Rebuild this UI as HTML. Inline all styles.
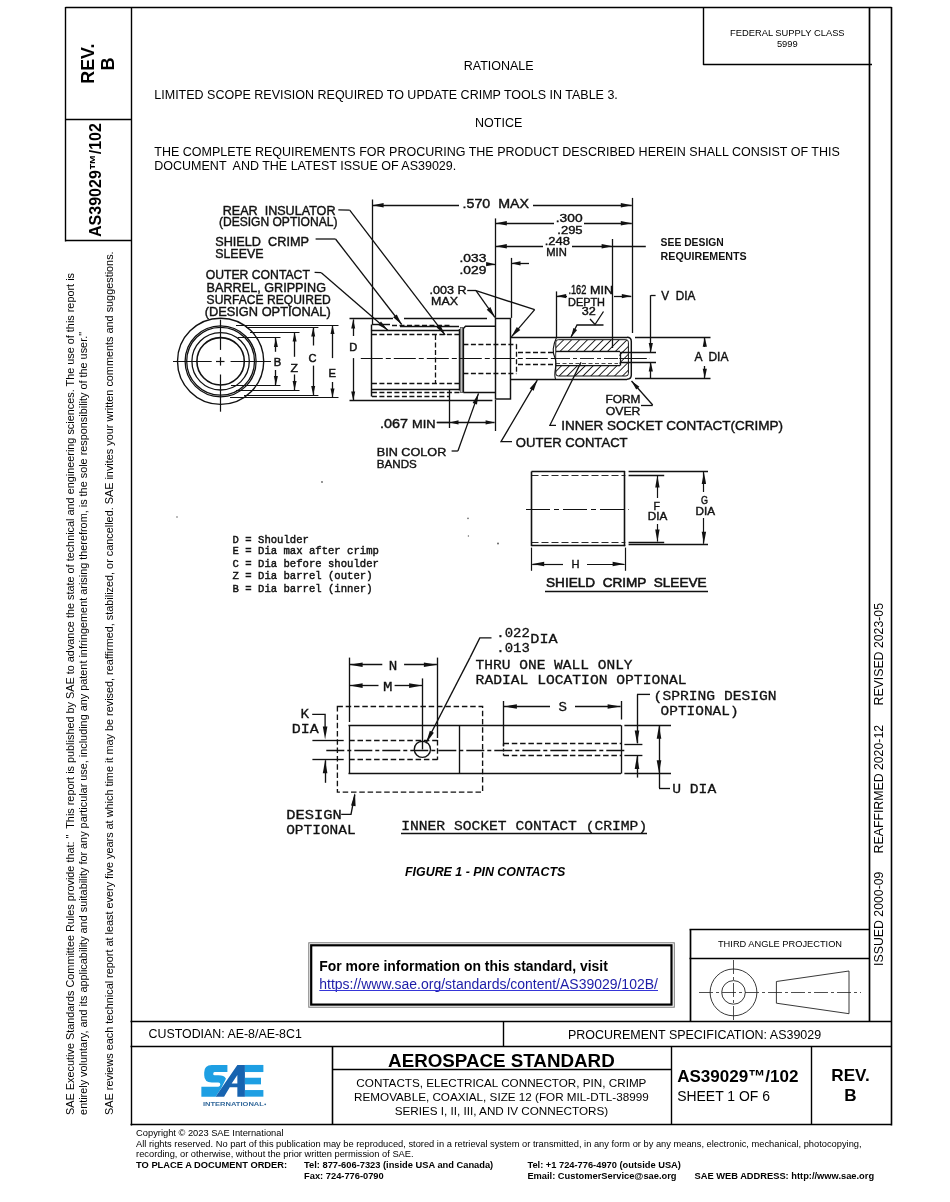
<!DOCTYPE html>
<html><head><meta charset="utf-8"><style>
html,body{margin:0;padding:0;background:#fff;}
body{width:950px;height:1202px;overflow:hidden;}
svg{display:block;will-change:transform;} text{white-space:pre;}
</style></head><body>
<svg width="950" height="1202" viewBox="0 0 950 1202">
<line x1="65.5" y1="7.5" x2="891.5" y2="7.5" stroke="#000" stroke-width="1.4"/>
<line x1="65.5" y1="7.0" x2="65.5" y2="241.5" stroke="#000" stroke-width="1.4"/>
<line x1="65.5" y1="119.5" x2="131.0" y2="119.5" stroke="#000" stroke-width="1.4"/>
<line x1="65.5" y1="240.5" x2="131.0" y2="240.5" stroke="#000" stroke-width="1.4"/>
<line x1="131.5" y1="7.0" x2="131.5" y2="1125.5" stroke="#000" stroke-width="1.4"/>
<line x1="869.5" y1="7.0" x2="869.5" y2="1021.5" stroke="#000" stroke-width="1.7"/>
<line x1="891.5" y1="7.0" x2="891.5" y2="1125.5" stroke="#000" stroke-width="1.5999999999999999"/>
<line x1="703.5" y1="7.0" x2="703.5" y2="65.0" stroke="#000" stroke-width="1.4"/>
<line x1="703.2" y1="64.5" x2="872.0" y2="64.5" stroke="#000" stroke-width="1.4"/>
<line x1="130.5" y1="1021.5" x2="891.5" y2="1021.5" stroke="#000" stroke-width="1.5999999999999999"/>
<line x1="130.5" y1="1046.5" x2="891.5" y2="1046.5" stroke="#000" stroke-width="1.5999999999999999"/>
<line x1="503.5" y1="1021.4" x2="503.5" y2="1046.8" stroke="#000" stroke-width="1.4"/>
<line x1="332.5" y1="1046.8" x2="332.5" y2="1125.0" stroke="#000" stroke-width="1.5999999999999999"/>
<line x1="671.5" y1="1046.8" x2="671.5" y2="1125.0" stroke="#000" stroke-width="1.4"/>
<line x1="811.5" y1="1046.8" x2="811.5" y2="1125.0" stroke="#000" stroke-width="1.4"/>
<line x1="332.3" y1="1069.5" x2="671.3" y2="1069.5" stroke="#000" stroke-width="1.4"/>
<line x1="130.5" y1="1124.5" x2="891.5" y2="1124.5" stroke="#000" stroke-width="1.7"/>
<line x1="690.5" y1="929.6" x2="690.5" y2="1021.4" stroke="#000" stroke-width="1.7"/>
<line x1="689.5" y1="929.5" x2="869.2" y2="929.5" stroke="#000" stroke-width="1.7"/>
<line x1="689.5" y1="958.5" x2="869.2" y2="958.5" stroke="#000" stroke-width="1.7"/>
<text x="94.3" y="63.7" font-family="Liberation Sans" font-size="17.9" font-weight="bold" font-style="normal" text-anchor="middle" fill="#000" transform="rotate(-90 94.3 63.7)">REV.</text>
<text x="114.3" y="64.0" font-family="Liberation Sans" font-size="18.2" font-weight="bold" font-style="normal" text-anchor="middle" fill="#000" transform="rotate(-90 114.3 64.0)">B</text>
<text x="101.0" y="180.0" font-family="Liberation Sans" font-size="16" font-weight="bold" font-style="normal" text-anchor="middle" fill="#000" transform="rotate(-90 101.0 180.0)">AS39029™/102</text>
<text x="74.4" y="1114.9" font-family="Liberation Sans" font-size="10.87" font-weight="normal" font-style="normal" text-anchor="start" fill="#000" transform="rotate(-90 74.4 1114.9)">SAE Executive Standards Committee Rules provide that: "  This report is published by SAE to advance the state of technical and engineering sciences. The use of this report is</text>
<text x="87.3" y="1114.9" font-family="Liberation Sans" font-size="10.87" font-weight="normal" font-style="normal" text-anchor="start" fill="#000" transform="rotate(-90 87.3 1114.9)">entirely voluntary, and its applicability and suitability for any particular use, including any patent infringement arising therefrom, is the sole responsibility of the user."</text>
<text x="113.1" y="1114.9" font-family="Liberation Sans" font-size="10.87" font-weight="normal" font-style="normal" text-anchor="start" fill="#000" transform="rotate(-90 113.1 1114.9)">SAE reviews each technical report at least every five years at which time it may be revised, reaffirmed, stabilized, or cancelled. SAE invites your written comments and suggestions.</text>
<text x="883.3" y="965.9" font-family="Liberation Sans" font-size="12.3" font-weight="normal" font-style="normal" text-anchor="start" fill="#000" transform="rotate(-90 883.3 965.9)">ISSUED 2000-09</text>
<text x="883.3" y="853.4" font-family="Liberation Sans" font-size="12.3" font-weight="normal" font-style="normal" text-anchor="start" fill="#000" transform="rotate(-90 883.3 853.4)">REAFFIRMED 2020-12</text>
<text x="883.3" y="705.5" font-family="Liberation Sans" font-size="12.3" font-weight="normal" font-style="normal" text-anchor="start" fill="#000" transform="rotate(-90 883.3 705.5)">REVISED 2023-05</text>
<text x="787.3" y="36.3" font-family="Liberation Sans" font-size="9.35" font-weight="normal" font-style="normal" text-anchor="middle" fill="#000">FEDERAL SUPPLY CLASS</text>
<text x="787.3" y="47.3" font-family="Liberation Sans" font-size="9.35" font-weight="normal" font-style="normal" text-anchor="middle" fill="#000">5999</text>
<text x="498.7" y="70.0" font-family="Liberation Sans" font-size="12.5" font-weight="normal" font-style="normal" text-anchor="middle" fill="#000">RATIONALE</text>
<text x="154.3" y="98.8" font-family="Liberation Sans" font-size="12.5" font-weight="normal" font-style="normal" text-anchor="start" fill="#000">LIMITED SCOPE REVISION REQUIRED TO UPDATE CRIMP TOOLS IN TABLE 3.</text>
<text x="498.7" y="127.0" font-family="Liberation Sans" font-size="12.5" font-weight="normal" font-style="normal" text-anchor="middle" fill="#000">NOTICE</text>
<text x="154.3" y="156.0" font-family="Liberation Sans" font-size="12.5" font-weight="normal" font-style="normal" text-anchor="start" fill="#000">THE COMPLETE REQUIREMENTS FOR PROCURING THE PRODUCT DESCRIBED HEREIN SHALL CONSIST OF THIS</text>
<text x="154.3" y="170.2" font-family="Liberation Sans" font-size="12.5" font-weight="normal" font-style="normal" text-anchor="start" fill="#000" xml:space="preserve">DOCUMENT  AND THE LATEST ISSUE OF AS39029.</text>
<text x="405.0" y="876.4" font-family="Liberation Sans" font-size="12.42" font-weight="bold" font-style="italic" text-anchor="start" fill="#000">FIGURE 1 - PIN CONTACTS</text>
<rect x="308.8" y="942.8" width="365.5" height="64.4" fill="none" stroke="#777" stroke-width="1.0"/>
<rect x="311.2" y="945.3" width="360.3" height="59.3" fill="none" stroke="#000" stroke-width="2.2"/>
<text x="319.3" y="971.0" font-family="Liberation Sans" font-size="13.93" font-weight="bold" font-style="normal" text-anchor="start" fill="#000">For more information on this standard, visit</text>
<text x="319.3" y="988.6" font-family="Liberation Sans" font-size="13.97" font-weight="normal" font-style="normal" text-anchor="start" fill="#1c1ca8">https://www.sae.org/standards/content/AS39029/102B/</text>
<line x1="319.3" y1="990.5" x2="658.0" y2="990.5" stroke="#3535d8" stroke-width="1.1"/>
<text x="780.0" y="947.0" font-family="Liberation Sans" font-size="9.28" font-weight="normal" font-style="normal" text-anchor="middle" fill="#000">THIRD ANGLE PROJECTION</text>
<text x="148.5" y="1037.8" font-family="Liberation Sans" font-size="12.4" font-weight="normal" font-style="normal" text-anchor="start" fill="#000">CUSTODIAN: AE-8/AE-8C1</text>
<text x="568.0" y="1039.0" font-family="Liberation Sans" font-size="12.48" font-weight="normal" font-style="normal" text-anchor="start" fill="#000">PROCUREMENT SPECIFICATION: AS39029</text>
<text x="501.4" y="1066.8" font-family="Liberation Sans" font-size="18.78" font-weight="bold" font-style="normal" text-anchor="middle" fill="#000">AEROSPACE STANDARD</text>
<text x="501.4" y="1087.2" font-family="Liberation Sans" font-size="11.7" font-weight="normal" font-style="normal" text-anchor="middle" fill="#000">CONTACTS, ELECTRICAL CONNECTOR, PIN, CRIMP</text>
<text x="501.4" y="1101.2" font-family="Liberation Sans" font-size="11.7" font-weight="normal" font-style="normal" text-anchor="middle" fill="#000">REMOVABLE, COAXIAL, SIZE 12 (FOR MIL-DTL-38999</text>
<text x="501.4" y="1114.8" font-family="Liberation Sans" font-size="11.7" font-weight="normal" font-style="normal" text-anchor="middle" fill="#000">SERIES I, II, III, AND IV CONNECTORS)</text>
<text x="677.2" y="1082.4" font-family="Liberation Sans" font-size="17.05" font-weight="bold" font-style="normal" text-anchor="start" fill="#000">AS39029™/102</text>
<text x="677.2" y="1101.4" font-family="Liberation Sans" font-size="13.94" font-weight="normal" font-style="normal" text-anchor="start" fill="#000">SHEET 1 OF 6</text>
<text x="850.5" y="1081.2" font-family="Liberation Sans" font-size="17.1" font-weight="bold" font-style="normal" text-anchor="middle" fill="#000">REV.</text>
<text x="850.5" y="1100.6" font-family="Liberation Sans" font-size="17.1" font-weight="bold" font-style="normal" text-anchor="middle" fill="#000">B</text>
<text x="136.1" y="1136.0" font-family="Liberation Sans" font-size="9.3" font-weight="normal" font-style="normal" text-anchor="start" fill="#000">Copyright © 2023 SAE International</text>
<text x="136.1" y="1146.6" font-family="Liberation Sans" font-size="9.3" font-weight="normal" font-style="normal" text-anchor="start" fill="#000">All rights reserved. No part of this publication may be reproduced, stored in a retrieval system or transmitted, in any form or by any means, electronic, mechanical, photocopying,</text>
<text x="136.1" y="1157.0" font-family="Liberation Sans" font-size="9.3" font-weight="normal" font-style="normal" text-anchor="start" fill="#000">recording, or otherwise, without the prior written permission of SAE.</text>
<text x="136.1" y="1168.1" font-family="Liberation Sans" font-size="9.3" font-weight="bold" font-style="normal" text-anchor="start" fill="#000">TO PLACE A DOCUMENT ORDER:</text>
<text x="304.1" y="1168.1" font-family="Liberation Sans" font-size="9.3" font-weight="bold" font-style="normal" text-anchor="start" fill="#000">Tel: 877-606-7323 (inside USA and Canada)</text>
<text x="304.1" y="1178.9" font-family="Liberation Sans" font-size="9.3" font-weight="bold" font-style="normal" text-anchor="start" fill="#000">Fax: 724-776-0790</text>
<text x="527.4" y="1168.1" font-family="Liberation Sans" font-size="9.3" font-weight="bold" font-style="normal" text-anchor="start" fill="#000">Tel: +1 724-776-4970 (outside USA)</text>
<text x="527.4" y="1178.9" font-family="Liberation Sans" font-size="9.3" font-weight="bold" font-style="normal" text-anchor="start" fill="#000">Email: CustomerService@sae.org</text>
<text x="694.5" y="1178.9" font-family="Liberation Sans" font-size="9.3" font-weight="bold" font-style="normal" text-anchor="start" fill="#000">SAE WEB ADDRESS: http://www.sae.org</text>
<path d="M227.41,1064.94 L211.78,1064.94 Q204.20,1064.94 204.20,1072.52 L204.20,1075.36 Q204.20,1082.46 211.78,1082.46 L218.41,1082.46 Q220.30,1082.46 220.30,1084.36 Q220.30,1086.72 218.41,1086.72 L201.36,1086.72 L201.36,1096.67 L215.57,1096.67 L221.25,1088.14 L225.98,1078.67 Q224.09,1075.36 218.41,1075.36 L214.62,1075.36 Q213.20,1075.36 213.20,1073.94 Q213.20,1072.05 214.62,1072.05 L227.41,1072.05 Z" fill="#1e9fe3"/>
<path d="M215.57,1096.67 L237.35,1064.94 L244.92,1064.94 L244.92,1096.67 L237.35,1096.67 L237.35,1087.20 L229.77,1087.20 L224.09,1096.67 Z M231.67,1083.41 L237.35,1083.41 L237.35,1074.89 Z" fill="#1763b0" fill-rule="evenodd"/>
<polygon points="244.92,1064.94 263.39,1064.94 263.39,1072.05 244.92,1072.05" fill="#1e9fe3"/>
<polygon points="244.92,1077.73 261.02,1077.73 261.02,1084.36 244.92,1084.36" fill="#1e9fe3"/>
<polygon points="244.92,1090.04 263.39,1090.04 263.39,1096.67 244.92,1096.67" fill="#1e9fe3"/>
<text x="233.4" y="1105.8" font-family="Liberation Sans" font-size="6.0" font-weight="bold" font-style="normal" text-anchor="middle" fill="#356a9c" textLength="61.0" lengthAdjust="spacingAndGlyphs">INTERNATIONAL</text>
<circle cx="265.2" cy="1104.3" r="0.9" fill="#356a9c"/>
<circle cx="220.6" cy="361.3" r="43.1" fill="none" stroke="#111" stroke-width="1.4"/>
<circle cx="220.6" cy="361.3" r="35.5" fill="none" stroke="#111" stroke-width="1.3"/>
<circle cx="220.6" cy="361.3" r="33.9" fill="none" stroke="#111" stroke-width="1.3"/>
<circle cx="220.6" cy="361.3" r="28.7" fill="none" stroke="#111" stroke-width="1.3"/>
<circle cx="220.6" cy="361.3" r="23.7" fill="none" stroke="#111" stroke-width="1.6"/>
<line x1="173.0" y1="361.5" x2="211.7" y2="361.5" stroke="#111" stroke-width="1.2"/>
<line x1="216.0" y1="361.5" x2="224.5" y2="361.5" stroke="#111" stroke-width="1.2"/>
<line x1="230.6" y1="361.5" x2="271.0" y2="361.5" stroke="#111" stroke-width="1.2"/>
<line x1="220.5" y1="319.6" x2="220.5" y2="349.9" stroke="#111" stroke-width="1.2"/>
<line x1="220.5" y1="357.2" x2="220.5" y2="365.6" stroke="#111" stroke-width="1.2"/>
<line x1="220.5" y1="374.5" x2="220.5" y2="411.7" stroke="#111" stroke-width="1.2"/>
<line x1="236.0" y1="325.5" x2="338.5" y2="325.5" stroke="#111" stroke-width="1.0"/>
<line x1="246.0" y1="327.5" x2="318.4" y2="327.5" stroke="#111" stroke-width="1.0"/>
<line x1="250.0" y1="332.5" x2="299.5" y2="332.5" stroke="#111" stroke-width="1.0"/>
<line x1="238.0" y1="337.5" x2="280.5" y2="337.5" stroke="#111" stroke-width="1.0"/>
<line x1="231.0" y1="385.5" x2="280.5" y2="385.5" stroke="#111" stroke-width="1.0"/>
<line x1="236.0" y1="390.5" x2="299.5" y2="390.5" stroke="#111" stroke-width="1.0"/>
<line x1="244.0" y1="395.5" x2="318.4" y2="395.5" stroke="#111" stroke-width="1.0"/>
<line x1="230.0" y1="397.5" x2="338.5" y2="397.5" stroke="#111" stroke-width="1.0"/>
<line x1="275.5" y1="351.8" x2="275.5" y2="337.9" stroke="#111" stroke-width="1.3"/>
<polygon points="275.9,337.9 277.9,346.9 273.9,346.9" fill="#111"/>
<line x1="275.5" y1="370.0" x2="275.5" y2="385.1" stroke="#111" stroke-width="1.3"/>
<polygon points="275.9,385.1 273.9,376.1 277.9,376.1" fill="#111"/>
<line x1="294.5" y1="356.8" x2="294.5" y2="332.6" stroke="#111" stroke-width="1.3"/>
<polygon points="294.6,332.6 296.6,341.6 292.6,341.6" fill="#111"/>
<line x1="294.5" y1="374.5" x2="294.5" y2="390.1" stroke="#111" stroke-width="1.3"/>
<polygon points="294.6,390.1 292.6,381.1 296.6,381.1" fill="#111"/>
<line x1="313.5" y1="345.5" x2="313.5" y2="327.4" stroke="#111" stroke-width="1.3"/>
<polygon points="313.2,327.4 315.2,336.4 311.2,336.4" fill="#111"/>
<line x1="313.5" y1="365.6" x2="313.5" y2="395.0" stroke="#111" stroke-width="1.3"/>
<polygon points="313.2,395.0 311.2,386.0 315.2,386.0" fill="#111"/>
<line x1="332.5" y1="358.1" x2="332.5" y2="325.0" stroke="#111" stroke-width="1.3"/>
<polygon points="332.5,325.0 334.5,334.0 330.5,334.0" fill="#111"/>
<line x1="332.5" y1="382.0" x2="332.5" y2="397.4" stroke="#111" stroke-width="1.3"/>
<polygon points="332.5,397.4 330.5,388.4 334.5,388.4" fill="#111"/>
<line x1="353.5" y1="336.0" x2="353.5" y2="319.4" stroke="#111" stroke-width="1.3"/>
<polygon points="353.2,319.4 355.2,328.4 351.2,328.4" fill="#111"/>
<line x1="353.5" y1="358.1" x2="353.5" y2="400.6" stroke="#111" stroke-width="1.3"/>
<polygon points="353.2,400.6 351.2,391.6 355.2,391.6" fill="#111"/>
<text x="277.4" y="365.6" font-family="Liberation Sans" font-size="11.8" font-weight="normal" font-style="normal" text-anchor="middle" fill="#111" textLength="7.5" lengthAdjust="spacingAndGlyphs" stroke="#111" stroke-width="0.5">B</text>
<text x="294.3" y="372.2" font-family="Liberation Sans" font-size="11.8" font-weight="normal" font-style="normal" text-anchor="middle" fill="#111" textLength="7.5" lengthAdjust="spacingAndGlyphs" stroke="#111" stroke-width="0.5">Z</text>
<text x="312.6" y="362.0" font-family="Liberation Sans" font-size="11.8" font-weight="normal" font-style="normal" text-anchor="middle" fill="#111" textLength="8.0" lengthAdjust="spacingAndGlyphs" stroke="#111" stroke-width="0.5">C</text>
<text x="332.2" y="377.2" font-family="Liberation Sans" font-size="11.8" font-weight="normal" font-style="normal" text-anchor="middle" fill="#111" textLength="7.5" lengthAdjust="spacingAndGlyphs" stroke="#111" stroke-width="0.5">E</text>
<text x="353.3" y="350.6" font-family="Liberation Sans" font-size="11.8" font-weight="normal" font-style="normal" text-anchor="middle" fill="#111" textLength="8.0" lengthAdjust="spacingAndGlyphs" stroke="#111" stroke-width="0.5">D</text>
<line x1="349.5" y1="318.5" x2="393.0" y2="318.5" stroke="#111" stroke-width="1.3"/>
<line x1="404.0" y1="318.5" x2="487.0" y2="318.5" stroke="#111" stroke-width="1.3"/>
<line x1="349.5" y1="400.5" x2="492.4" y2="400.5" stroke="#111" stroke-width="1.3"/>
<line x1="371.5" y1="324.5" x2="371.5" y2="396.5" stroke="#111" stroke-width="1.45"/>
<line x1="371.9" y1="324.5" x2="390.0" y2="324.5" stroke="#111" stroke-width="1.45"/>
<line x1="392.0" y1="325.5" x2="450.0" y2="325.5" stroke="#111" stroke-width="1.3" stroke-dasharray="5,2.5"/>
<line x1="400.0" y1="326.5" x2="459.0" y2="326.5" stroke="#111" stroke-width="1.3"/>
<line x1="371.9" y1="330.5" x2="459.6" y2="330.5" stroke="#111" stroke-width="1.45"/>
<line x1="371.9" y1="334.5" x2="459.6" y2="334.5" stroke="#111" stroke-width="1.3" stroke-dasharray="5,2.5"/>
<line x1="371.9" y1="383.5" x2="459.6" y2="383.5" stroke="#111" stroke-width="1.3" stroke-dasharray="5,2.5"/>
<line x1="371.9" y1="389.5" x2="459.6" y2="389.5" stroke="#111" stroke-width="1.45"/>
<line x1="371.9" y1="392.5" x2="459.6" y2="392.5" stroke="#111" stroke-width="1.3" stroke-dasharray="5,2.5"/>
<line x1="371.9" y1="396.5" x2="449.0" y2="396.5" stroke="#111" stroke-width="1.3" stroke-dasharray="5,2.5"/>
<line x1="435.5" y1="334.9" x2="435.5" y2="383.5" stroke="#111" stroke-width="1.3" stroke-dasharray="5,2.5"/>
<line x1="459.5" y1="329.0" x2="459.5" y2="390.5" stroke="#111" stroke-width="1.45"/>
<rect x="460.3" y="327.5" width="2.6" height="65.0" fill="#bbb" stroke="#555" stroke-width="0.8"/>
<polyline points="463.4,392.5 463.4,328.5 465.5,326.2 495.3,326.2" fill="none" stroke="#111" stroke-width="1.45"/>
<line x1="463.4" y1="392.5" x2="495.3" y2="392.5" stroke="#111" stroke-width="1.45"/>
<rect x="495.5" y="318.5" width="15.0" height="80.5" fill="none" stroke="#111" stroke-width="1.45"/>
<line x1="510.7" y1="337.5" x2="627.0" y2="337.5" stroke="#111" stroke-width="1.45"/>
<line x1="510.7" y1="379.5" x2="627.0" y2="379.5" stroke="#111" stroke-width="1.45"/>
<path d="M627,337.3 Q631.3,337.3 631.3,341.5 L631.3,375 Q631.3,379.2 627,379.2" fill="none" stroke="#111" stroke-width="1.45"/>
<line x1="463.4" y1="344.5" x2="516.4" y2="344.5" stroke="#111" stroke-width="1.3" stroke-dasharray="5,2.5"/>
<line x1="463.4" y1="373.5" x2="516.4" y2="373.5" stroke="#111" stroke-width="1.3" stroke-dasharray="5,2.5"/>
<line x1="516.5" y1="344.3" x2="516.5" y2="373.8" stroke="#111" stroke-width="1.3" stroke-dasharray="5,2.5"/>
<line x1="518.0" y1="352.5" x2="555.0" y2="352.5" stroke="#111" stroke-width="1.3" stroke-dasharray="5,2.5"/>
<line x1="518.0" y1="364.5" x2="555.0" y2="364.5" stroke="#111" stroke-width="1.3" stroke-dasharray="5,2.5"/>
<line x1="360.8" y1="358.5" x2="650.0" y2="358.5" stroke="#111" stroke-width="1.0" stroke-dasharray="22,3,5,3"/>
<defs><pattern id="h" width="5.6" height="5.6" patternUnits="userSpaceOnUse" patternTransform="rotate(45)"><line x1="0" y1="0" x2="0" y2="5.6" stroke="#111" stroke-width="1.8"/></pattern></defs>
<rect x="555.8" y="339.9" width="72.6" height="11.6" fill="url(#h)"/>
<rect x="555.8" y="365.8" width="72.6" height="10.2" fill="url(#h)"/>
<rect x="619" y="351" width="9.4" height="15" fill="url(#h)"/>
<rect x="555.8" y="339.7" width="72.6" height="36.3" rx="2.5" fill="none" stroke="#111" stroke-width="1.0"/>
<line x1="556.0" y1="351.5" x2="620.0" y2="351.5" stroke="#111" stroke-width="1.3"/>
<line x1="556.0" y1="365.5" x2="620.0" y2="365.5" stroke="#111" stroke-width="1.3"/>
<line x1="620.5" y1="351.8" x2="620.5" y2="365.6" stroke="#111" stroke-width="1.3"/>
<rect x="556.5" y="352.6" width="62.8" height="12.3" fill="#fff"/>
<line x1="556.0" y1="358.5" x2="628.0" y2="358.5" stroke="#111" stroke-width="0.9" stroke-dasharray="14,3,4,3"/>
<line x1="556.0" y1="363.5" x2="618.0" y2="363.5" stroke="#333" stroke-width="0.9" stroke-dasharray="4,2.5"/>
<path d="M556.5,337.5 C553,345 552,352 555,358 C558,365 553,372 555.5,379" fill="none" stroke="#111" stroke-width="1.1"/>
<line x1="372.5" y1="199.5" x2="372.5" y2="324.0" stroke="#111" stroke-width="1.3"/>
<line x1="632.5" y1="197.9" x2="632.5" y2="333.0" stroke="#111" stroke-width="1.3"/>
<line x1="495.5" y1="218.4" x2="495.5" y2="317.9" stroke="#111" stroke-width="1.3"/>
<line x1="495.5" y1="400.0" x2="495.5" y2="431.0" stroke="#111" stroke-width="1.3"/>
<line x1="511.5" y1="257.9" x2="511.5" y2="317.9" stroke="#111" stroke-width="1.3"/>
<line x1="612.5" y1="239.0" x2="612.5" y2="348.0" stroke="#111" stroke-width="1.3"/>
<line x1="556.5" y1="291.4" x2="556.5" y2="338.0" stroke="#111" stroke-width="1.3"/>
<line x1="449.5" y1="389.5" x2="449.5" y2="428.0" stroke="#111" stroke-width="1.3"/>
<line x1="459.0" y1="205.5" x2="372.6" y2="205.5" stroke="#111" stroke-width="1.3"/>
<polygon points="372.6,205.2 383.6,202.9 383.6,207.5" fill="#111"/>
<line x1="533.0" y1="205.5" x2="631.8" y2="205.5" stroke="#111" stroke-width="1.3"/>
<polygon points="631.8,205.2 620.8,207.5 620.8,202.9" fill="#111"/>
<text x="462.6" y="208.3" font-family="Liberation Sans" font-size="12.5" font-weight="normal" font-style="normal" text-anchor="start" fill="#111" textLength="66.4" lengthAdjust="spacingAndGlyphs" stroke="#111" stroke-width="0.4">.570  MAX</text>
<line x1="554.0" y1="223.5" x2="495.8" y2="223.5" stroke="#111" stroke-width="1.3"/>
<polygon points="495.8,223.2 506.8,220.9 506.8,225.5" fill="#111"/>
<line x1="584.0" y1="223.5" x2="631.8" y2="223.5" stroke="#111" stroke-width="1.3"/>
<polygon points="631.8,223.2 620.8,225.5 620.8,220.9" fill="#111"/>
<text x="555.8" y="221.6" font-family="Liberation Sans" font-size="11.5" font-weight="normal" font-style="normal" text-anchor="start" fill="#111" textLength="26.8" lengthAdjust="spacingAndGlyphs" stroke="#111" stroke-width="0.4">.300</text>
<text x="557.3" y="234.2" font-family="Liberation Sans" font-size="11.5" font-weight="normal" font-style="normal" text-anchor="start" fill="#111" textLength="25.3" lengthAdjust="spacingAndGlyphs" stroke="#111" stroke-width="0.4">.295</text>
<line x1="543.0" y1="246.5" x2="495.8" y2="246.5" stroke="#111" stroke-width="1.3"/>
<polygon points="495.8,246.2 506.8,243.9 506.8,248.5" fill="#111"/>
<line x1="572.0" y1="246.5" x2="612.6" y2="246.5" stroke="#111" stroke-width="1.3"/>
<polygon points="612.6,246.2 601.6,248.5 601.6,243.9" fill="#111"/>
<line x1="612.6" y1="246.5" x2="645.8" y2="246.5" stroke="#111" stroke-width="1.3"/>
<text x="544.7" y="245.3" font-family="Liberation Sans" font-size="11.5" font-weight="normal" font-style="normal" text-anchor="start" fill="#111" textLength="25.3" lengthAdjust="spacingAndGlyphs" stroke="#111" stroke-width="0.4">.248</text>
<text x="546.3" y="256.3" font-family="Liberation Sans" font-size="11.5" font-weight="normal" font-style="normal" text-anchor="start" fill="#111" textLength="20.5" lengthAdjust="spacingAndGlyphs" stroke="#111" stroke-width="0.4">MIN</text>
<text x="660.6" y="245.6" font-family="Liberation Sans" font-size="10.6" font-weight="bold" font-style="normal" text-anchor="start" fill="#111" textLength="63.2" lengthAdjust="spacingAndGlyphs">SEE DESIGN</text>
<text x="660.6" y="259.9" font-family="Liberation Sans" font-size="10.6" font-weight="bold" font-style="normal" text-anchor="start" fill="#111" textLength="86.1" lengthAdjust="spacingAndGlyphs">REQUIREMENTS</text>
<line x1="486.5" y1="264.5" x2="495.6" y2="264.5" stroke="#111" stroke-width="1.3"/>
<polygon points="495.6,264.2 486.1,266.3 486.1,262.1" fill="#111"/>
<line x1="529.0" y1="263.5" x2="511.0" y2="263.5" stroke="#111" stroke-width="1.3"/>
<polygon points="511.0,263.3 520.5,261.2 520.5,265.4" fill="#111"/>
<text x="459.5" y="262.0" font-family="Liberation Sans" font-size="11" font-weight="normal" font-style="normal" text-anchor="start" fill="#111" textLength="26.8" lengthAdjust="spacingAndGlyphs" stroke="#111" stroke-width="0.4">.033</text>
<text x="459.5" y="273.7" font-family="Liberation Sans" font-size="11" font-weight="normal" font-style="normal" text-anchor="start" fill="#111" textLength="26.8" lengthAdjust="spacingAndGlyphs" stroke="#111" stroke-width="0.4">.029</text>
<text x="429.5" y="294.2" font-family="Liberation Sans" font-size="11.5" font-weight="normal" font-style="normal" text-anchor="start" fill="#111" textLength="37.0" lengthAdjust="spacingAndGlyphs" stroke="#111" stroke-width="0.4">.003 R</text>
<text x="431.1" y="305.2" font-family="Liberation Sans" font-size="11.5" font-weight="normal" font-style="normal" text-anchor="start" fill="#111" textLength="27.0" lengthAdjust="spacingAndGlyphs" stroke="#111" stroke-width="0.4">MAX</text>
<line x1="467.2" y1="290.5" x2="476.0" y2="290.5" stroke="#111" stroke-width="1.3"/>
<line x1="476.0" y1="290.7" x2="494.9" y2="317.3" stroke="#111" stroke-width="1.3"/>
<polygon points="494.9,317.3 486.7,309.7 490.4,307.0" fill="#111"/>
<line x1="476.0" y1="290.7" x2="534.7" y2="309.7" stroke="#111" stroke-width="1.3"/>
<line x1="534.7" y1="309.7" x2="511.4" y2="336.8" stroke="#111" stroke-width="1.3"/>
<polygon points="511.4,336.8 516.8,327.0 520.3,330.0" fill="#111"/>
<line x1="567.0" y1="296.5" x2="556.7" y2="296.5" stroke="#111" stroke-width="1.3"/>
<polygon points="556.7,296.1 566.2,294.0 566.2,298.2" fill="#111"/>
<line x1="614.0" y1="296.5" x2="631.3" y2="296.5" stroke="#111" stroke-width="1.3"/>
<polygon points="631.3,296.1 621.8,298.2 621.8,294.0" fill="#111"/>
<text x="568.4" y="294.2" font-family="Liberation Sans" font-size="12" font-weight="normal" font-style="normal" text-anchor="start" fill="#111" textLength="18.0" lengthAdjust="spacingAndGlyphs" stroke="#111" stroke-width="0.4">.162</text>
<text x="590.0" y="294.2" font-family="Liberation Sans" font-size="10.5" font-weight="normal" font-style="normal" text-anchor="start" fill="#111" textLength="23.0" lengthAdjust="spacingAndGlyphs" stroke="#111" stroke-width="0.4">MIN</text>
<text x="568.0" y="305.6" font-family="Liberation Sans" font-size="10.5" font-weight="normal" font-style="normal" text-anchor="start" fill="#111" textLength="37.0" lengthAdjust="spacingAndGlyphs" stroke="#111" stroke-width="0.4">DEPTH</text>
<text x="581.7" y="315.0" font-family="Liberation Sans" font-size="10.5" font-weight="normal" font-style="normal" text-anchor="start" fill="#111" textLength="14.0" lengthAdjust="spacingAndGlyphs" stroke="#111" stroke-width="0.4">32</text>
<polyline points="590.0,319.0 595.0,324.5 603.5,311.5" fill="none" stroke="#111" stroke-width="1.3"/>
<polyline points="603.5,325.0 577.0,325.0 571.0,337.0" fill="none" stroke="#111" stroke-width="1.3"/>
<polygon points="571.0,337.5 573.4,328.1 577.1,329.9" fill="#111"/>
<line x1="650.8" y1="295.5" x2="655.6" y2="295.5" stroke="#111" stroke-width="1.3"/>
<line x1="650.5" y1="295.2" x2="650.5" y2="352.4" stroke="#111" stroke-width="1.3"/>
<polygon points="650.8,352.4 648.7,342.9 652.9,342.9" fill="#111"/>
<line x1="650.5" y1="378.5" x2="650.5" y2="362.0" stroke="#111" stroke-width="1.3"/>
<polygon points="650.8,362.0 652.9,371.5 648.7,371.5" fill="#111"/>
<line x1="621.0" y1="352.5" x2="656.0" y2="352.5" stroke="#111" stroke-width="1.3"/>
<line x1="621.0" y1="362.5" x2="656.0" y2="362.5" stroke="#111" stroke-width="1.3"/>
<text x="661.3" y="299.5" font-family="Liberation Sans" font-size="12" font-weight="normal" font-style="normal" text-anchor="start" fill="#111" textLength="34.0" lengthAdjust="spacingAndGlyphs" stroke="#111" stroke-width="0.4">V  DIA</text>
<line x1="635.0" y1="337.5" x2="710.5" y2="337.5" stroke="#111" stroke-width="1.3"/>
<line x1="635.0" y1="378.5" x2="710.5" y2="378.5" stroke="#111" stroke-width="1.3"/>
<line x1="704.5" y1="347.0" x2="704.5" y2="337.3" stroke="#111" stroke-width="1.3"/>
<polygon points="704.8,337.3 706.9,346.8 702.7,346.8" fill="#111"/>
<line x1="704.5" y1="366.0" x2="704.5" y2="378.2" stroke="#111" stroke-width="1.3"/>
<polygon points="704.8,378.2 702.7,368.7 706.9,368.7" fill="#111"/>
<text x="694.4" y="361.0" font-family="Liberation Sans" font-size="12" font-weight="normal" font-style="normal" text-anchor="start" fill="#111" textLength="34.0" lengthAdjust="spacingAndGlyphs" stroke="#111" stroke-width="0.4">A  DIA</text>
<line x1="652.7" y1="405.0" x2="631.5" y2="381.0" stroke="#111" stroke-width="1.3"/>
<polygon points="631.5,381.0 639.4,386.7 636.2,389.5" fill="#111"/>
<line x1="652.7" y1="405.5" x2="641.0" y2="405.5" stroke="#111" stroke-width="1.3"/>
<text x="605.4" y="403.4" font-family="Liberation Sans" font-size="11.5" font-weight="normal" font-style="normal" text-anchor="start" fill="#111" textLength="35.0" lengthAdjust="spacingAndGlyphs" stroke="#111" stroke-width="0.4">FORM</text>
<text x="605.8" y="414.6" font-family="Liberation Sans" font-size="11.5" font-weight="normal" font-style="normal" text-anchor="start" fill="#111" textLength="34.6" lengthAdjust="spacingAndGlyphs" stroke="#111" stroke-width="0.4">OVER</text>
<polyline points="556.0,425.3 549.9,425.3 581.0,362.4" fill="none" stroke="#111" stroke-width="1.3"/>
<text x="561.3" y="429.8" font-family="Liberation Sans" font-size="12.3" font-weight="normal" font-style="normal" text-anchor="start" fill="#111" textLength="221.7" lengthAdjust="spacingAndGlyphs" stroke="#111" stroke-width="0.4">INNER SOCKET CONTACT(CRIMP)</text>
<polyline points="512.0,441.6 501.0,441.6 537.3,380.1" fill="none" stroke="#111" stroke-width="1.3"/>
<polygon points="537.3,380.1 533.7,390.7 529.7,388.4" fill="#111"/>
<text x="515.8" y="446.6" font-family="Liberation Sans" font-size="12.3" font-weight="normal" font-style="normal" text-anchor="start" fill="#111" textLength="111.8" lengthAdjust="spacingAndGlyphs" stroke="#111" stroke-width="0.4">OUTER CONTACT</text>
<line x1="436.8" y1="422.5" x2="494.6" y2="422.5" stroke="#111" stroke-width="1.3"/>
<polygon points="449.5,422.4 458.5,420.2 458.5,424.6" fill="#111"/>
<polygon points="494.6,422.4 485.6,424.6 485.6,420.2" fill="#111"/>
<line x1="436.8" y1="422.5" x2="449.5" y2="422.5" stroke="#111" stroke-width="1.3"/>
<text x="380.0" y="428.0" font-family="Liberation Sans" font-size="13.5" font-weight="normal" font-style="normal" text-anchor="start" fill="#111" textLength="28.0" lengthAdjust="spacingAndGlyphs" stroke="#111" stroke-width="0.45">.067</text>
<text x="412.0" y="428.0" font-family="Liberation Sans" font-size="11.5" font-weight="normal" font-style="normal" text-anchor="start" fill="#111" textLength="23.5" lengthAdjust="spacingAndGlyphs" stroke="#111" stroke-width="0.4">MIN</text>
<polyline points="451.6,451.0 457.9,451.0" fill="none" stroke="#111" stroke-width="1.3"/>
<line x1="457.9" y1="451.0" x2="478.5" y2="393.4" stroke="#111" stroke-width="1.3"/>
<polygon points="478.5,393.4 477.0,404.5 472.6,403.0" fill="#111"/>
<text x="376.8" y="455.7" font-family="Liberation Sans" font-size="11.8" font-weight="normal" font-style="normal" text-anchor="start" fill="#111" textLength="69.5" lengthAdjust="spacingAndGlyphs" stroke="#111" stroke-width="0.4">BIN COLOR</text>
<text x="376.8" y="468.3" font-family="Liberation Sans" font-size="11.8" font-weight="normal" font-style="normal" text-anchor="start" fill="#111" textLength="40.0" lengthAdjust="spacingAndGlyphs" stroke="#111" stroke-width="0.4">BANDS</text>
<polyline points="338.3,209.8 349.7,210.2" fill="none" stroke="#111" stroke-width="1.3"/>
<line x1="349.7" y1="210.2" x2="445.1" y2="334.9" stroke="#111" stroke-width="1.3"/>
<polygon points="445.1,334.9 436.6,327.6 440.2,324.8" fill="#111"/>
<polyline points="315.6,239.0 335.5,239.0" fill="none" stroke="#111" stroke-width="1.3"/>
<line x1="335.5" y1="239.0" x2="401.7" y2="324.5" stroke="#111" stroke-width="1.3"/>
<polygon points="401.7,324.5 393.1,317.2 396.8,314.4" fill="#111"/>
<polyline points="314.6,272.3 321.3,272.7" fill="none" stroke="#111" stroke-width="1.3"/>
<line x1="321.3" y1="272.7" x2="387.8" y2="330.3" stroke="#111" stroke-width="1.3"/>
<polygon points="387.8,330.3 378.0,324.8 381.0,321.4" fill="#111"/>
<text x="222.7" y="214.9" font-family="Liberation Sans" font-size="12.3" font-weight="normal" font-style="normal" text-anchor="start" fill="#111" textLength="112.8" lengthAdjust="spacingAndGlyphs" stroke="#111" stroke-width="0.4">REAR  INSULATOR</text>
<text x="219.0" y="225.8" font-family="Liberation Sans" font-size="12.3" font-weight="normal" font-style="normal" text-anchor="start" fill="#111" textLength="118.4" lengthAdjust="spacingAndGlyphs" stroke="#111" stroke-width="0.4">(DESIGN OPTIONAL)</text>
<text x="215.2" y="246.2" font-family="Liberation Sans" font-size="12.3" font-weight="normal" font-style="normal" text-anchor="start" fill="#111" textLength="93.8" lengthAdjust="spacingAndGlyphs" stroke="#111" stroke-width="0.4">SHIELD  CRIMP</text>
<text x="215.2" y="258.0" font-family="Liberation Sans" font-size="12.3" font-weight="normal" font-style="normal" text-anchor="start" fill="#111" textLength="48.3" lengthAdjust="spacingAndGlyphs" stroke="#111" stroke-width="0.4">SLEEVE</text>
<text x="205.7" y="279.3" font-family="Liberation Sans" font-size="12.3" font-weight="normal" font-style="normal" text-anchor="start" fill="#111" textLength="104.2" lengthAdjust="spacingAndGlyphs" stroke="#111" stroke-width="0.4">OUTER CONTACT</text>
<text x="206.6" y="291.6" font-family="Liberation Sans" font-size="12.3" font-weight="normal" font-style="normal" text-anchor="start" fill="#111" textLength="119.4" lengthAdjust="spacingAndGlyphs" stroke="#111" stroke-width="0.4">BARREL, GRIPPING</text>
<text x="206.6" y="304.0" font-family="Liberation Sans" font-size="12.3" font-weight="normal" font-style="normal" text-anchor="start" fill="#111" textLength="124.1" lengthAdjust="spacingAndGlyphs" stroke="#111" stroke-width="0.4">SURFACE REQUIRED</text>
<text x="204.7" y="315.6" font-family="Liberation Sans" font-size="12.3" font-weight="normal" font-style="normal" text-anchor="start" fill="#111" textLength="126.0" lengthAdjust="spacingAndGlyphs" stroke="#111" stroke-width="0.4">(DESIGN OPTIONAL)</text>
<line x1="531.5" y1="471.5" x2="625.0" y2="471.5" stroke="#111" stroke-width="1.6"/>
<line x1="531.5" y1="475.5" x2="625.3" y2="475.5" stroke="#111" stroke-width="0.9" stroke-dasharray="7,3"/>
<line x1="531.5" y1="542.5" x2="625.3" y2="542.5" stroke="#111" stroke-width="0.9" stroke-dasharray="7,3"/>
<line x1="531.5" y1="545.5" x2="625.3" y2="545.5" stroke="#111" stroke-width="1.6"/>
<line x1="531.5" y1="471.5" x2="531.5" y2="546.2" stroke="#111" stroke-width="1.6"/>
<line x1="624.5" y1="471.0" x2="624.5" y2="546.2" stroke="#111" stroke-width="1.6"/>
<line x1="526.0" y1="509.5" x2="628.6" y2="509.5" stroke="#111" stroke-width="1.2" stroke-dasharray="24,4,5,4"/>
<line x1="628.6" y1="475.5" x2="664.2" y2="475.5" stroke="#111" stroke-width="1.6"/>
<line x1="628.6" y1="542.5" x2="664.2" y2="542.5" stroke="#111" stroke-width="1.6"/>
<line x1="657.5" y1="498.0" x2="657.5" y2="475.5" stroke="#111" stroke-width="1.2"/>
<polygon points="657.4,475.5 659.6,487.5 655.2,487.5" fill="#111"/>
<line x1="657.5" y1="524.0" x2="657.5" y2="541.6" stroke="#111" stroke-width="1.2"/>
<polygon points="657.4,541.6 655.2,529.6 659.6,529.6" fill="#111"/>
<text x="656.8" y="509.6" font-family="Liberation Sans" font-size="10.8" font-weight="normal" font-style="normal" text-anchor="middle" fill="#111" textLength="6.5" lengthAdjust="spacingAndGlyphs" stroke="#111" stroke-width="0.4">F</text>
<text x="657.6" y="520.2" font-family="Liberation Sans" font-size="10.8" font-weight="normal" font-style="normal" text-anchor="middle" fill="#111" textLength="19.5" lengthAdjust="spacingAndGlyphs" stroke="#111" stroke-width="0.4">DIA</text>
<line x1="628.6" y1="471.5" x2="708.0" y2="471.5" stroke="#111" stroke-width="1.6"/>
<line x1="628.6" y1="544.5" x2="708.0" y2="544.5" stroke="#111" stroke-width="1.6"/>
<line x1="703.5" y1="492.0" x2="703.5" y2="472.0" stroke="#111" stroke-width="1.2"/>
<polygon points="703.9,472.0 706.1,484.0 701.7,484.0" fill="#111"/>
<line x1="703.5" y1="518.0" x2="703.5" y2="543.8" stroke="#111" stroke-width="1.2"/>
<polygon points="703.9,543.8 701.7,531.8 706.1,531.8" fill="#111"/>
<text x="704.6" y="503.6" font-family="Liberation Sans" font-size="10.8" font-weight="normal" font-style="normal" text-anchor="middle" fill="#111" textLength="7.0" lengthAdjust="spacingAndGlyphs" stroke="#111" stroke-width="0.4">G</text>
<text x="705.3" y="514.8" font-family="Liberation Sans" font-size="10.8" font-weight="normal" font-style="normal" text-anchor="middle" fill="#111" textLength="19.5" lengthAdjust="spacingAndGlyphs" stroke="#111" stroke-width="0.4">DIA</text>
<line x1="531.5" y1="547.6" x2="531.5" y2="570.8" stroke="#111" stroke-width="1.2"/>
<line x1="625.5" y1="547.6" x2="625.5" y2="570.8" stroke="#111" stroke-width="1.2"/>
<line x1="563.0" y1="564.5" x2="532.2" y2="564.5" stroke="#111" stroke-width="1.2"/>
<polygon points="532.2,564.0 544.2,561.8 544.2,566.2" fill="#111"/>
<line x1="587.0" y1="564.5" x2="624.6" y2="564.5" stroke="#111" stroke-width="1.2"/>
<polygon points="624.6,564.0 612.6,566.2 612.6,561.8" fill="#111"/>
<text x="575.5" y="568.0" font-family="Liberation Sans" font-size="11.5" font-weight="normal" font-style="normal" text-anchor="middle" fill="#111" textLength="8.0" lengthAdjust="spacingAndGlyphs" stroke="#111" stroke-width="0.4">H</text>
<text x="546.0" y="587.3" font-family="Liberation Sans" font-size="13" font-weight="normal" font-style="normal" text-anchor="start" fill="#111" textLength="160.6" lengthAdjust="spacingAndGlyphs" stroke="#111" stroke-width="0.55">SHIELD  CRIMP  SLEEVE</text>
<line x1="545.0" y1="591.5" x2="708.0" y2="591.5" stroke="#111" stroke-width="1.6"/>
<text x="232.6" y="542.9" font-family="Liberation Mono" font-size="11.4" font-weight="normal" font-style="normal" text-anchor="start" fill="#111" textLength="76.3" lengthAdjust="spacingAndGlyphs" stroke="#111" stroke-width="0.45">D = Shoulder</text>
<text x="232.6" y="554.2" font-family="Liberation Mono" font-size="11.4" font-weight="normal" font-style="normal" text-anchor="start" fill="#111" textLength="146.3" lengthAdjust="spacingAndGlyphs" stroke="#111" stroke-width="0.45">E = Dia max after crimp</text>
<text x="232.6" y="567.1" font-family="Liberation Mono" font-size="11.4" font-weight="normal" font-style="normal" text-anchor="start" fill="#111" textLength="146.3" lengthAdjust="spacingAndGlyphs" stroke="#111" stroke-width="0.45">C = Dia before shoulder</text>
<text x="232.6" y="578.7" font-family="Liberation Mono" font-size="11.4" font-weight="normal" font-style="normal" text-anchor="start" fill="#111" textLength="139.9" lengthAdjust="spacingAndGlyphs" stroke="#111" stroke-width="0.45">Z = Dia barrel (outer)</text>
<text x="232.6" y="592.1" font-family="Liberation Mono" font-size="11.4" font-weight="normal" font-style="normal" text-anchor="start" fill="#111" textLength="139.9" lengthAdjust="spacingAndGlyphs" stroke="#111" stroke-width="0.45">B = Dia barrel (inner)</text>
<rect x="337.4" y="706.5" width="145.2" height="85.6" fill="none" stroke="#111" stroke-width="1.35" stroke-dasharray="5.5,2.8"/>
<line x1="348.5" y1="725.5" x2="621.0" y2="725.5" stroke="#111" stroke-width="1.35"/>
<line x1="348.5" y1="773.5" x2="621.0" y2="773.5" stroke="#111" stroke-width="1.35"/>
<line x1="349.5" y1="725.3" x2="349.5" y2="773.6" stroke="#111" stroke-width="1.35"/>
<line x1="621.5" y1="725.3" x2="621.5" y2="773.6" stroke="#111" stroke-width="1.35"/>
<line x1="459.5" y1="725.3" x2="459.5" y2="773.6" stroke="#111" stroke-width="1.35"/>
<line x1="349.2" y1="740.5" x2="437.5" y2="740.5" stroke="#111" stroke-width="1.35" stroke-dasharray="5.5,2.8"/>
<line x1="349.2" y1="759.5" x2="437.5" y2="759.5" stroke="#111" stroke-width="1.35" stroke-dasharray="5.5,2.8"/>
<line x1="437.5" y1="740.0" x2="437.5" y2="759.7" stroke="#111" stroke-width="1.35" stroke-dasharray="5.5,2.8"/>
<line x1="326.3" y1="750.5" x2="626.0" y2="750.5" stroke="#111" stroke-width="1.35" stroke-dasharray="18,3,4,3"/>
<circle cx="422.4" cy="749.3" r="8.1" fill="none" stroke="#111" stroke-width="1.4"/>
<line x1="349.5" y1="657.6" x2="349.5" y2="722.0" stroke="#111" stroke-width="1.35"/>
<line x1="437.5" y1="657.6" x2="437.5" y2="738.0" stroke="#111" stroke-width="1.35"/>
<line x1="422.5" y1="678.4" x2="422.5" y2="749.5" stroke="#111" stroke-width="1.35"/>
<line x1="382.3" y1="664.5" x2="349.6" y2="664.5" stroke="#111" stroke-width="1.35"/>
<polygon points="349.6,664.8 362.6,662.5 362.6,667.1" fill="#111"/>
<line x1="404.1" y1="664.5" x2="436.9" y2="664.5" stroke="#111" stroke-width="1.35"/>
<polygon points="436.9,664.8 423.9,667.1 423.9,662.5" fill="#111"/>
<text x="393.0" y="669.9" font-family="Liberation Mono" font-size="13.5" font-weight="normal" font-style="normal" text-anchor="middle" fill="#111" textLength="8.5" lengthAdjust="spacingAndGlyphs" stroke="#111" stroke-width="0.3">N</text>
<line x1="378.5" y1="685.5" x2="349.6" y2="685.5" stroke="#111" stroke-width="1.35"/>
<polygon points="349.6,685.6 362.6,683.3 362.6,687.9" fill="#111"/>
<line x1="394.6" y1="685.5" x2="422.1" y2="685.5" stroke="#111" stroke-width="1.35"/>
<polygon points="422.1,685.6 409.1,687.9 409.1,683.3" fill="#111"/>
<text x="387.8" y="690.7" font-family="Liberation Mono" font-size="13.5" font-weight="normal" font-style="normal" text-anchor="middle" fill="#111" textLength="9.5" lengthAdjust="spacingAndGlyphs" stroke="#111" stroke-width="0.3">M</text>
<polyline points="312.2,714.4 325.1,714.4 325.1,728.0" fill="none" stroke="#111" stroke-width="1.35"/>
<polygon points="325.1,739.6 322.8,726.6 327.4,726.6" fill="#111"/>
<line x1="312.4" y1="740.5" x2="343.7" y2="740.5" stroke="#111" stroke-width="1.35"/>
<line x1="312.4" y1="759.5" x2="343.7" y2="759.5" stroke="#111" stroke-width="1.35"/>
<line x1="325.5" y1="782.8" x2="325.5" y2="760.2" stroke="#111" stroke-width="1.35"/>
<polygon points="325.1,760.2 327.4,773.2 322.8,773.2" fill="#111"/>
<text x="300.5" y="718.2" font-family="Liberation Mono" font-size="13.5" font-weight="normal" font-style="normal" text-anchor="start" fill="#111" textLength="8.6" lengthAdjust="spacingAndGlyphs" stroke="#111" stroke-width="0.3">K</text>
<text x="291.8" y="733.4" font-family="Liberation Mono" font-size="13.5" font-weight="normal" font-style="normal" text-anchor="start" fill="#111" textLength="27.0" lengthAdjust="spacingAndGlyphs" stroke="#111" stroke-width="0.3">DIA</text>
<polyline points="491.5,637.9 479.8,637.9 470.0,657.6" fill="none" stroke="#111" stroke-width="1.35"/>
<line x1="470.0" y1="657.6" x2="425.9" y2="743.3" stroke="#111" stroke-width="1.35"/>
<polygon points="425.9,743.3 429.8,730.7 433.9,732.8" fill="#111"/>
<text x="496.3" y="637.0" font-family="Liberation Mono" font-size="13.5" font-weight="normal" font-style="normal" text-anchor="start" fill="#111" textLength="33.5" lengthAdjust="spacingAndGlyphs" stroke="#111" stroke-width="0.3">.022</text>
<text x="496.3" y="651.9" font-family="Liberation Mono" font-size="13.5" font-weight="normal" font-style="normal" text-anchor="start" fill="#111" textLength="33.5" lengthAdjust="spacingAndGlyphs" stroke="#111" stroke-width="0.3">.013</text>
<text x="530.3" y="643.3" font-family="Liberation Mono" font-size="13.5" font-weight="normal" font-style="normal" text-anchor="start" fill="#111" textLength="27.4" lengthAdjust="spacingAndGlyphs" stroke="#111" stroke-width="0.3">DIA</text>
<text x="475.6" y="669.2" font-family="Liberation Mono" font-size="13.5" font-weight="normal" font-style="normal" text-anchor="start" fill="#111" textLength="157.0" lengthAdjust="spacingAndGlyphs" stroke="#111" stroke-width="0.3">THRU ONE WALL ONLY</text>
<text x="475.6" y="683.9" font-family="Liberation Mono" font-size="13.5" font-weight="normal" font-style="normal" text-anchor="start" fill="#111" textLength="211.0" lengthAdjust="spacingAndGlyphs" stroke="#111" stroke-width="0.3">RADIAL LOCATION OPTIONAL</text>
<line x1="503.5" y1="701.0" x2="503.5" y2="746.0" stroke="#111" stroke-width="1.35"/>
<line x1="621.5" y1="701.0" x2="621.5" y2="719.5" stroke="#111" stroke-width="1.35"/>
<line x1="550.0" y1="706.5" x2="503.9" y2="706.5" stroke="#111" stroke-width="1.35"/>
<polygon points="503.9,706.5 516.9,704.2 516.9,708.8" fill="#111"/>
<line x1="575.0" y1="706.5" x2="620.6" y2="706.5" stroke="#111" stroke-width="1.35"/>
<polygon points="620.6,706.5 607.6,708.8 607.6,704.2" fill="#111"/>
<text x="562.8" y="711.4" font-family="Liberation Mono" font-size="13.5" font-weight="normal" font-style="normal" text-anchor="middle" fill="#111" textLength="8.5" lengthAdjust="spacingAndGlyphs" stroke="#111" stroke-width="0.3">S</text>
<line x1="503.5" y1="743.5" x2="621.0" y2="743.5" stroke="#111" stroke-width="1.35" stroke-dasharray="5.5,2.8"/>
<line x1="503.5" y1="755.5" x2="621.0" y2="755.5" stroke="#111" stroke-width="1.35" stroke-dasharray="5.5,2.8"/>
<line x1="503.5" y1="743.6" x2="503.5" y2="755.6" stroke="#111" stroke-width="1.35" stroke-dasharray="3,2"/>
<line x1="624.4" y1="744.5" x2="642.4" y2="744.5" stroke="#111" stroke-width="1.35"/>
<line x1="624.4" y1="755.5" x2="642.4" y2="755.5" stroke="#111" stroke-width="1.35"/>
<polyline points="650.0,694.4 637.0,694.4" fill="none" stroke="#111" stroke-width="1.35"/>
<line x1="637.5" y1="694.4" x2="637.5" y2="743.4" stroke="#111" stroke-width="1.35"/>
<polygon points="637.0,743.4 634.7,730.4 639.3,730.4" fill="#111"/>
<line x1="637.5" y1="777.6" x2="637.5" y2="756.0" stroke="#111" stroke-width="1.35"/>
<polygon points="637.0,756.0 639.3,769.0 634.7,769.0" fill="#111"/>
<text x="653.6" y="700.0" font-family="Liberation Mono" font-size="13.5" font-weight="normal" font-style="normal" text-anchor="start" fill="#111" textLength="123.0" lengthAdjust="spacingAndGlyphs" stroke="#111" stroke-width="0.3">(SPRING DESIGN</text>
<text x="660.6" y="715.0" font-family="Liberation Mono" font-size="13.5" font-weight="normal" font-style="normal" text-anchor="start" fill="#111" textLength="78.0" lengthAdjust="spacingAndGlyphs" stroke="#111" stroke-width="0.3">OPTIONAL)</text>
<line x1="624.4" y1="725.5" x2="671.0" y2="725.5" stroke="#111" stroke-width="1.35"/>
<line x1="624.4" y1="773.5" x2="671.0" y2="773.5" stroke="#111" stroke-width="1.35"/>
<line x1="659.5" y1="725.3" x2="659.5" y2="788.0" stroke="#111" stroke-width="1.35"/>
<polygon points="659.0,725.7 661.3,738.7 656.7,738.7" fill="#111"/>
<polygon points="659.0,773.2 656.7,760.2 661.3,760.2" fill="#111"/>
<line x1="659.0" y1="788.5" x2="670.0" y2="788.5" stroke="#111" stroke-width="1.35"/>
<text x="672.2" y="793.0" font-family="Liberation Mono" font-size="13.5" font-weight="normal" font-style="normal" text-anchor="start" fill="#111" textLength="44.0" lengthAdjust="spacingAndGlyphs" stroke="#111" stroke-width="0.3">U DIA</text>
<polyline points="341.2,814.3 351.0,814.3 354.8,794.5" fill="none" stroke="#111" stroke-width="1.35"/>
<polygon points="355.0,793.0 355.6,806.2 351.0,805.6" fill="#111"/>
<text x="286.2" y="819.2" font-family="Liberation Mono" font-size="13.5" font-weight="normal" font-style="normal" text-anchor="start" fill="#111" textLength="55.5" lengthAdjust="spacingAndGlyphs" stroke="#111" stroke-width="0.3">DESIGN</text>
<text x="286.2" y="833.8" font-family="Liberation Mono" font-size="13.5" font-weight="normal" font-style="normal" text-anchor="start" fill="#111" textLength="69.5" lengthAdjust="spacingAndGlyphs" stroke="#111" stroke-width="0.3">OPTIONAL</text>
<text x="401.2" y="830.3" font-family="Liberation Mono" font-size="13.5" font-weight="normal" font-style="normal" text-anchor="start" fill="#111" textLength="246.0" lengthAdjust="spacingAndGlyphs" stroke="#111" stroke-width="0.3">INNER SOCKET CONTACT (CRIMP)</text>
<line x1="401.0" y1="833.5" x2="647.0" y2="833.5" stroke="#111" stroke-width="1.35"/>
<circle cx="733.5" cy="992.4" r="23.4" fill="none" stroke="#222" stroke-width="0.9"/>
<circle cx="733.5" cy="992.4" r="11.8" fill="none" stroke="#222" stroke-width="0.9"/>
<line x1="699.0" y1="992.5" x2="861.0" y2="992.5" stroke="#222" stroke-width="0.8" stroke-dasharray="14,3,3,3"/>
<line x1="733.5" y1="960.0" x2="733.5" y2="1020.0" stroke="#222" stroke-width="0.8" stroke-dasharray="14,3,3,3"/>
<polygon points="776.4,981.5 849,971 849,1013.7 776.4,1003.2" fill="none" stroke="#222" stroke-width="0.9"/>
<circle cx="322" cy="482" r="0.9" fill="#666"/>
<circle cx="177" cy="517" r="0.8" fill="#666"/>
<circle cx="468" cy="518.4" r="0.8" fill="#666"/>
<circle cx="498" cy="543.6" r="1.0" fill="#666"/>
<circle cx="468.4" cy="536" r="0.7" fill="#666"/>
</svg>
</body></html>
